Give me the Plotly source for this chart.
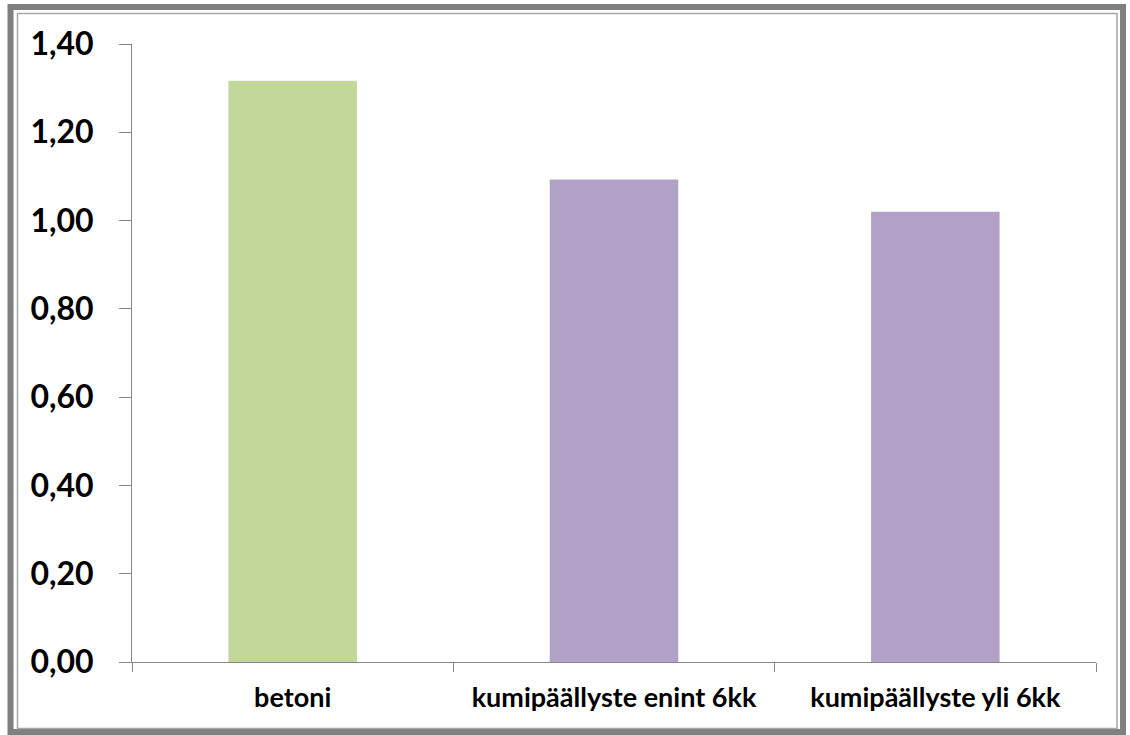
import plotly.graph_objects as go

categories = ["betoni", "kumipäällyste enint 6kk", "kumipäällyste yli 6kk"]
values = [1.317, 1.093, 1.020]
bar_colors = ["#c4d79b", "#b2a1c7", "#b2a1c7"]
y_ticks = [0.0, 0.2, 0.4, 0.6, 0.8, 1.0, 1.2, 1.4]

W, H = 1130, 735
L, R, T, B = 132, 1096, 44, 662


def px(x):
    return (x - L) / (R - L)


def py(y):
    return (B - y) / (B - T)


fig = go.Figure()
fig.add_trace(go.Bar(
    x=categories, y=values, marker=dict(color=bar_colors, line=dict(width=0)),
    width=0.4, showlegend=False, hoverinfo="x+y",
))

axis_col = "#868686"
fig.update_layout(
    width=W, height=H,
    margin=dict(l=L, r=W - R, t=T, b=H - B, pad=0),
    paper_bgcolor="white", plot_bgcolor="white",
    separators=", ",
    font=dict(family="Lato, Open Sans, sans-serif", color="black"),
    xaxis=dict(
        showline=True, linecolor=axis_col, linewidth=1,
        ticks="outside", tickson="boundaries", ticklen=9, tickcolor=axis_col, tickwidth=1,
        tickfont=dict(size=27, family="Lato", weight="bold"),
        ticklabelstandoff=12,
        showgrid=False, zeroline=False,
    ),
    yaxis=dict(
        range=[0, 1.4], tickvals=y_ticks, tickformat=".2f",
        showline=True, linecolor=axis_col, linewidth=1,
        ticks="outside", ticklen=12, tickcolor=axis_col, tickwidth=1,
        tickfont=dict(size=32, family="Lato", weight="bold"),
        ticklabelstandoff=19,
        showgrid=False, zeroline=False,
    ),
    shapes=[
        dict(type="rect", xref="paper", yref="paper",
             x0=px(10.5), x1=px(1123), y0=py(7), y1=py(732),
             line=dict(color="#7f7f7f", width=6), fillcolor="rgba(0,0,0,0)", layer="above"),
        dict(type="rect", xref="paper", yref="paper",
             x0=px(17.5), x1=px(1117), y0=py(13.5), y1=py(728.5),
             line=dict(color="#a6a6a6", width=1.5), fillcolor="rgba(0,0,0,0)", layer="above"),
    ],
)

fig.write_html("out.html")
